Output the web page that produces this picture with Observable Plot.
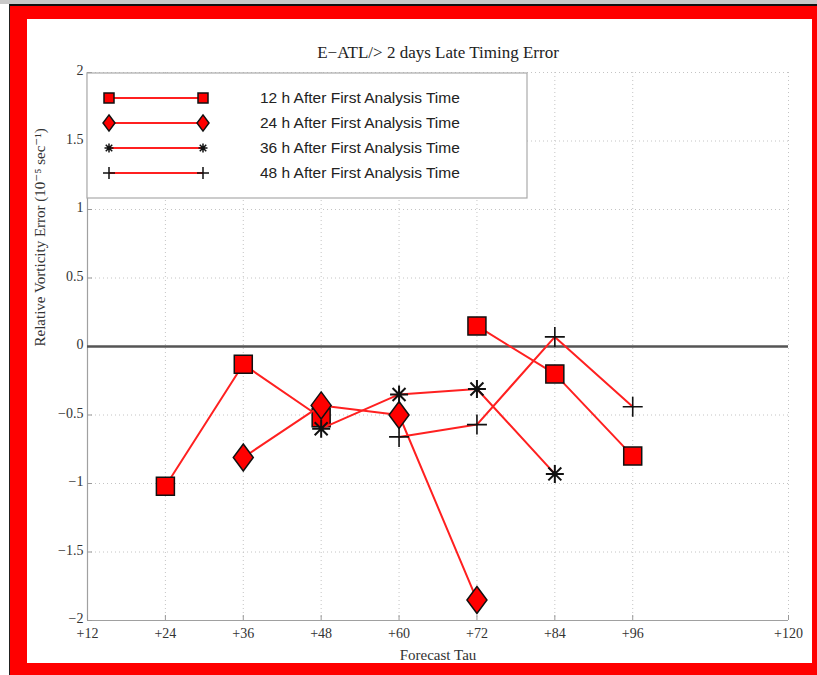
<!DOCTYPE html>
<html>
<head>
<meta charset="utf-8">
<script src="https://cdn.jsdelivr.net/npm/d3@7"></script>
<script src="https://cdn.jsdelivr.net/npm/@observablehq/plot@0.6"></script>
<style>
  html, body { margin: 0; padding: 0; background: #fff; }
  #strip { position: absolute; left: 0; top: 0; width: 817px; height: 4px; background: #c8c8c8; }
  #outer { position: absolute; left: 9px; top: 4px; width: 808px; height: 671px;
           border-top: 2px solid #111; border-left: 1px solid #222; box-sizing: border-box; }
  #frame { position: absolute; left: 0; top: 0; width: 807px; height: 669px; box-sizing: border-box;
           border-style: solid; border-color: #ff0000; border-width: 13px 5px 12px 17px; background: #fff; }
  #chart { position: absolute; left: 0; top: 0; }
</style>
</head>
<body>
<div id="strip"></div>
<div id="outer"><div id="frame"><div id="chart"></div></div></div>
<script>
// ---- data ----
const taus = [24, 36, 48, 60, 72, 84, 96];
const h12 = [-1.02, -0.13, -0.52, NaN, 0.15, -0.20, -0.80];
const h24 = [NaN, -0.81, -0.43, -0.50, -1.85, NaN, NaN];
const h36 = [NaN, NaN, -0.60, -0.35, -0.31, -0.93, NaN];
const h48 = [NaN, NaN, NaN, -0.66, -0.57, 0.07, -0.44];
const seriesNames = ["12 h After First Analysis Time", "24 h After First Analysis Time",
                     "36 h After First Analysis Time", "48 h After First Analysis Time"];
const xTicks = [12, 24, 36, 48, 60, 72, 84, 96, 120];
const xTickLabels = ["+12", "+24", "+36", "+48", "+60", "+72", "+84", "+96", "+120"];
const yTicks = [-2, -1.5, -1, -0.5, 0, 0.5, 1, 1.5, 2];
const yTickLabels = ["\u22122", "\u22121.5", "\u22121", "\u22120.5", "0", "0.5", "1", "1.5", "2"];
const titleText = "E\u2212ATL/> 2 days Late Timing Error";
const xLabel = "Forecast Tau";
const yLabel = "Relative Vorticity Error (10\u207B\u2075 sec\u207B\u00B9)";

// ---- symbols ----
const rOf = s => Math.sqrt(s / Math.PI);
const symSquare = { draw(c, s) { const r = rOf(s); c.rect(-r, -r, 2 * r, 2 * r); } };
const symDiamond = { draw(c, s) { const r = rOf(s), h = r * 1.35; c.moveTo(0, -h); c.lineTo(r, 0); c.lineTo(0, h); c.lineTo(-r, 0); c.closePath(); } };
const symAsterisk = { draw(c, s) { const r = rOf(s), d = r * 0.72;
  c.moveTo(-r, 0); c.lineTo(r, 0); c.moveTo(0, -r); c.lineTo(0, r);
  c.moveTo(-d, -d); c.lineTo(d, d); c.moveTo(-d, d); c.lineTo(d, -d); } };
const symPlus = { draw(c, s) { const r = rOf(s); c.moveTo(-r, 0); c.lineTo(r, 0); c.moveTo(0, -r); c.lineTo(0, r); } };

const series = [
  { vals: h12, sym: symSquare, r: 9, fill: "#ff0000", sw: 1.5 },
  { vals: h24, sym: symDiamond, r: 10, fill: "#ff0000", sw: 1.5 },
  { vals: h36, sym: symAsterisk, r: 9, fill: "none", sw: 2 },
  { vals: h48, sym: symPlus, r: 10, fill: "none", sw: 1.6 }
];
const lineColor = "#ff2020";

const W = 785, H = 644;
const marks = [
  Plot.gridX(xTicks, { stroke: "#c4c4c4", strokeOpacity: 1, strokeDasharray: "1,3" }),
  Plot.gridY(yTicks, { stroke: "#c4c4c4", strokeOpacity: 1, strokeDasharray: "1,3" }),
  Plot.ruleY([-2], { stroke: "#a0a0a0", strokeWidth: 1.2 }),
  Plot.ruleX([12], { stroke: "#a0a0a0", strokeWidth: 1.2 }),
  Plot.axisX({ ticks: xTicks, tickFormat: d => xTickLabels[xTicks.indexOf(d)], tickSize: -5, tickPadding: 12.5,
               stroke: "#999", fill: "#333", fontSize: 14, label: null }),
  Plot.axisY({ ticks: yTicks, tickFormat: () => "", tickSize: -5, stroke: "#999", label: null }),
  Plot.axisY({ ticks: yTicks, tickFormat: d => yTickLabels[yTicks.indexOf(d)], tickSize: 0, tickPadding: 4,
               fill: "#333", fontSize: 14, dy: -1.5, label: null }),
  Plot.ruleY([0], { stroke: "#555", strokeWidth: 2.5 })
];
series.forEach(s => {
  const data = taus.map((t, i) => ({ t, v: s.vals[i] }));
  marks.push(Plot.line(data, { x: "t", y: "v", stroke: lineColor, strokeWidth: 2 }));
  marks.push(Plot.dot(data.filter(d => !isNaN(d.v)), { x: "t", y: "v", symbol: s.sym, r: s.r, fill: s.fill,
    stroke: "#111", strokeWidth: s.sw }));
});
marks.push(
  Plot.text([titleText], { frameAnchor: "top", dy: -20, fontSize: 17, fill: "#222", lineAnchor: "middle" }),
  Plot.text([xLabel], { frameAnchor: "bottom", dy: 35, fontSize: 15, fill: "#333", lineAnchor: "middle" }),
  Plot.text([yLabel], { frameAnchor: "left", dx: -47, rotate: -90, fontSize: 15, fill: "#333", lineAnchor: "middle" })
);

const svg = Plot.plot({
  width: W, height: H,
  marginLeft: 60, marginRight: 24, marginTop: 53, marginBottom: 43,
  x: { domain: [12, 120] },
  y: { domain: [-2, 2] },
  style: { fontFamily: "'Liberation Serif', 'DejaVu Serif', serif", background: "white", overflow: "visible" },
  marks
});

// ---- legend ----
const lg = d3.select(svg).append("g").attr("class", "legend");
lg.append("rect").attr("x", 60).attr("y", 54).attr("width", 440).attr("height", 125)
  .attr("fill", "white").attr("stroke", "#aaa").attr("stroke-width", 1.2);
const legendSizes = [5, 6, 4.5, 6];
seriesNames.forEach((name, i) => {
  const y = 79 + i * 25, s = series[i];
  lg.append("line").attr("x1", 82).attr("x2", 176).attr("y1", y).attr("y2", y)
    .attr("stroke", lineColor).attr("stroke-width", 2);
  [82, 176].forEach(x => {
    const r = legendSizes[i];
    lg.append("path").attr("transform", `translate(${x},${y})`)
      .attr("d", d3.symbol(s.sym, r * r * Math.PI)())
      .attr("fill", s.fill === "none" ? "none" : s.fill).attr("stroke", "#111").attr("stroke-width", 1.5);
  });
  lg.append("text").attr("x", 233).attr("y", y).attr("dy", "0.35em").attr("text-anchor", "start")
    .attr("font-family", "'Liberation Sans', Arial, sans-serif").attr("font-size", 15.5).attr("fill", "#222")
    .text(name);
});

document.getElementById("chart").appendChild(svg);
</script>
</body>
</html>
